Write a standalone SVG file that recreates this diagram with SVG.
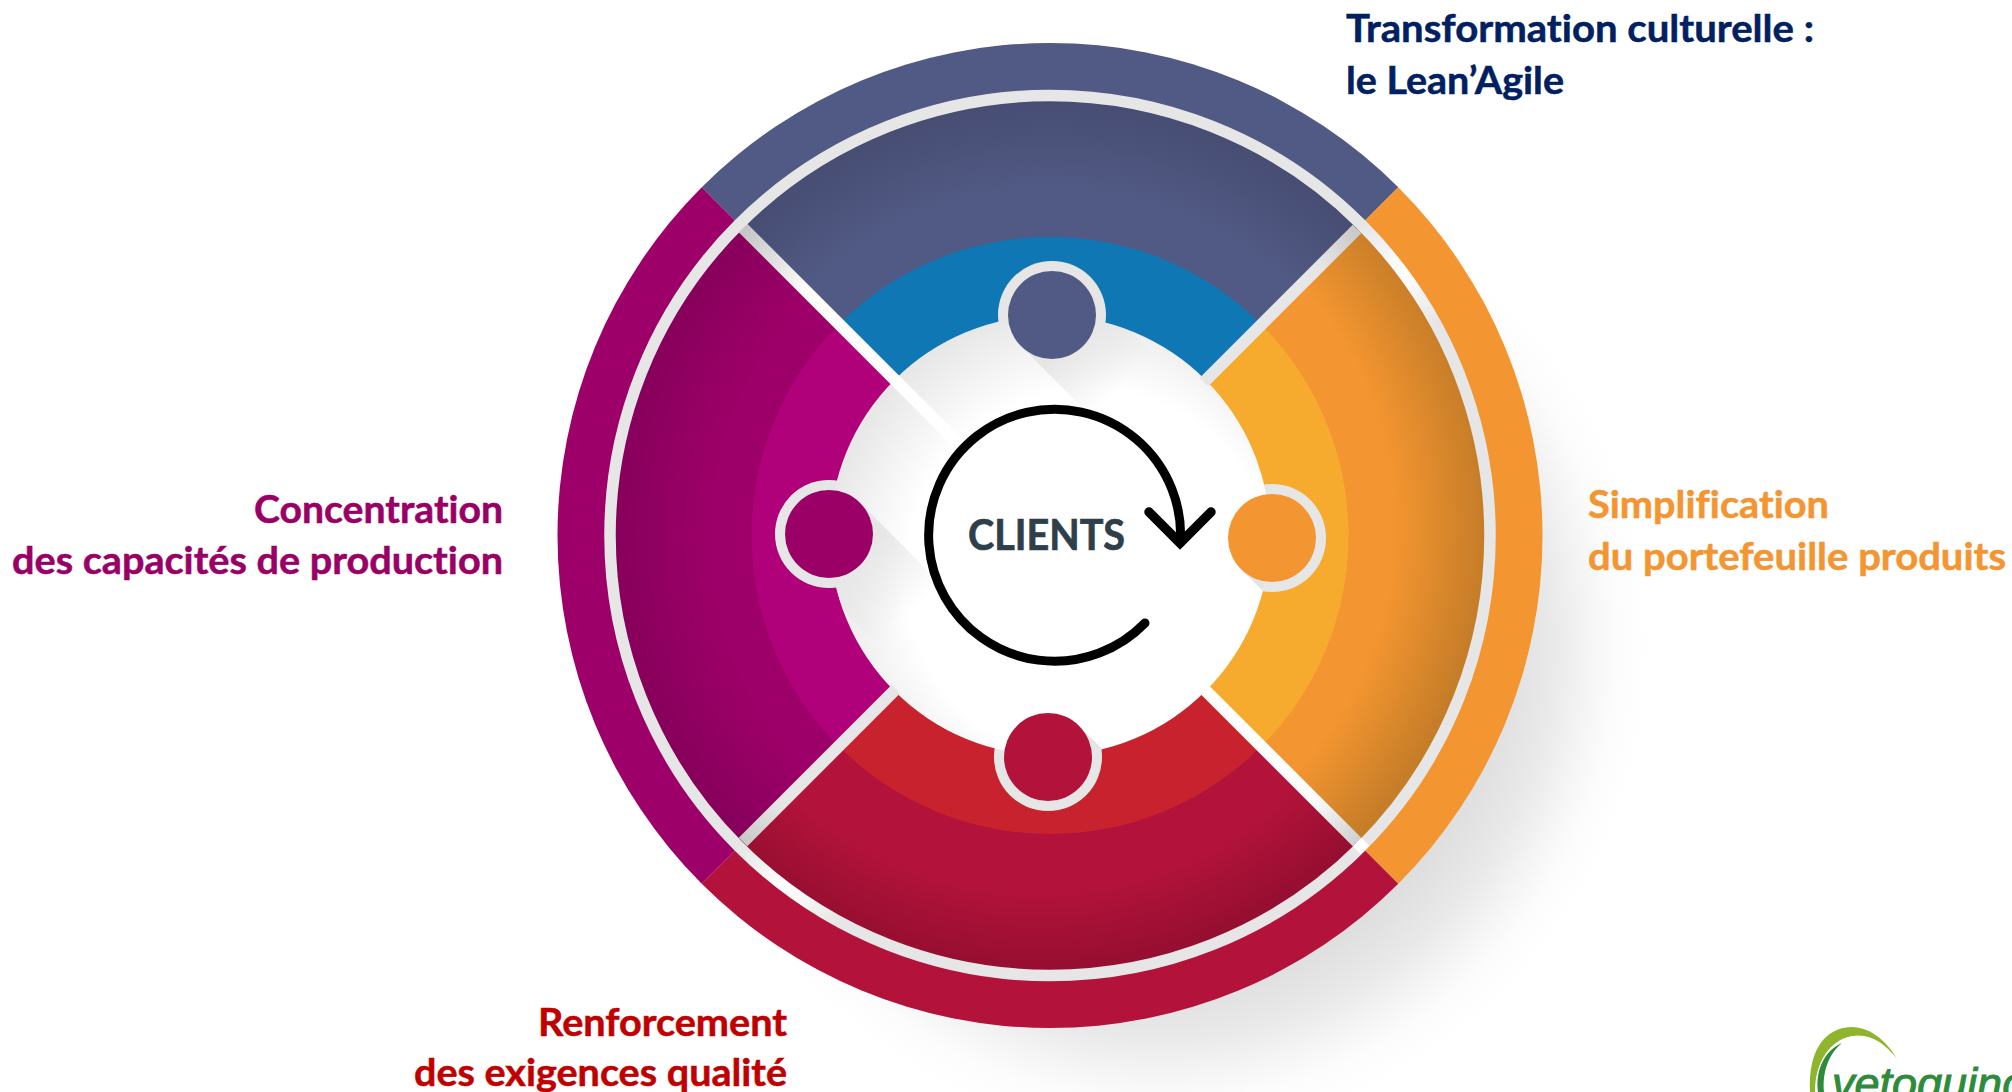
<svg xmlns="http://www.w3.org/2000/svg" width="2012" height="1092" viewBox="0 0 2012 1092">
<style>
text{font-variant-ligatures:none}
.lbl{font-family:"Lato","Carlito","Liberation Sans",sans-serif;font-weight:700;font-size:38px;stroke-width:0.5px}
.gap{fill:none;stroke-width:12}
.hub{fill:#e6e6e6}
.sh{fill:none;stroke-width:88}
</style>
<defs>
<radialGradient id="gShadow" gradientUnits="userSpaceOnUse" cx="1160" cy="645.5" r="490">
<stop offset="0.67" stop-color="#dcdcdc"/><stop offset="0.8" stop-color="#e9e9e9"/><stop offset="0.87" stop-color="#f4f4f4"/><stop offset="0.93" stop-color="#fcfcfc"/><stop offset="1" stop-color="#fff"/>
</radialGradient>
<radialGradient id="gTop" gradientUnits="userSpaceOnUse" cx="1050" cy="535.5" r="434"><stop offset="0.8" stop-color="#515a84"/><stop offset="1" stop-color="#474d73"/></radialGradient>
<radialGradient id="gLeft" gradientUnits="userSpaceOnUse" cx="1050" cy="535.5" r="434"><stop offset="0.78" stop-color="#9d0068"/><stop offset="1" stop-color="#87005b"/></radialGradient>
<radialGradient id="gRight" gradientUnits="userSpaceOnUse" cx="1040" cy="525" r="444"><stop offset="0.8" stop-color="#f39530"/><stop offset="1" stop-color="#c67d28"/></radialGradient>
<radialGradient id="gBottom" gradientUnits="userSpaceOnUse" cx="1040" cy="525" r="444"><stop offset="0.82" stop-color="#b3133a"/><stop offset="1" stop-color="#960e31"/></radialGradient>
<radialGradient id="gDisc" gradientUnits="userSpaceOnUse" cx="1090" cy="575" r="280"><stop offset="0.66" stop-color="#fff"/><stop offset="1" stop-color="#e5e5e5"/></radialGradient>
<linearGradient id="gRing" gradientUnits="userSpaceOnUse" x1="739" y1="224" x2="1361" y2="847"><stop offset="0.5" stop-color="#e6e6e6"/><stop offset="0.57" stop-color="#fff"/><stop offset="0.64" stop-color="#e6e6e6"/></linearGradient>
<linearGradient id="gNW" gradientUnits="userSpaceOnUse" x1="743" y1="228" x2="960" y2="445"><stop offset="0" stop-color="#c4c4c4"/><stop offset="0.3" stop-color="#fff"/><stop offset="1" stop-color="#fff"/></linearGradient>
<linearGradient id="gSE" gradientUnits="userSpaceOnUse" x1="1357" y1="842" x2="1205" y2="690"><stop offset="0" stop-color="#d0d0d0"/><stop offset="0.3" stop-color="#fff"/><stop offset="1" stop-color="#fff"/></linearGradient>
<linearGradient id="gNE" gradientUnits="userSpaceOnUse" x1="1357" y1="229" x2="1205" y2="381"><stop offset="0" stop-color="#c8c8c8"/><stop offset="0.25" stop-color="#e6e6e6"/></linearGradient>
<linearGradient id="gSW" gradientUnits="userSpaceOnUse" x1="743" y1="842" x2="895" y2="690"><stop offset="0" stop-color="#c8c8c8"/><stop offset="0.25" stop-color="#e6e6e6"/></linearGradient>
<linearGradient id="fTop" gradientUnits="userSpaceOnUse" x1="1052" y1="315" x2="1122" y2="385"><stop offset="0.3" stop-color="#e6e6e6"/><stop offset="1" stop-color="#e6e6e6" stop-opacity="0"/></linearGradient>
<linearGradient id="fLeft" gradientUnits="userSpaceOnUse" x1="829" y1="534" x2="909" y2="614"><stop offset="0.3" stop-color="#e6e6e6"/><stop offset="1" stop-color="#e6e6e6" stop-opacity="0"/></linearGradient>
<clipPath id="discClip"><circle cx="1050" cy="535.5" r="220"/></clipPath>
</defs>

<circle id="shadow" cx="1160" cy="645.5" r="490" fill="url(#gShadow)"/>

<g id="segment-top">
<path fill="#515a84" d="M1050 535.5L701.75 187.25A492.5 492.5 0 0 1 1398.25 187.25Z"/>
<path fill="url(#gTop)" d="M1050 535.5L738.9 224.4A440 440 0 0 1 1361.1 224.4Z"/>
<path fill="#0f78b4" d="M1050 535.5L838.9 324.4A298.5 298.5 0 0 1 1261.1 324.4Z"/>
</g>
<g id="segment-right">
<path fill="#f39530" d="M1050 535.5L1398.25 187.25A492.5 492.5 0 0 1 1398.25 883.75Z"/>
<path fill="url(#gRight)" d="M1050 535.5L1361.1 224.4A440 440 0 0 1 1361.1 846.6Z"/>
<path fill="#f7ab2e" d="M1050 535.5L1261.1 324.4A298.5 298.5 0 0 1 1261.1 746.6Z"/>
</g>
<g id="segment-bottom">
<path fill="#b3133a" d="M1050 535.5L1398.25 883.75A492.5 492.5 0 0 1 701.75 883.75Z"/>
<path fill="url(#gBottom)" d="M1050 535.5L1361.1 846.6A440 440 0 0 1 738.9 846.6Z"/>
<path fill="#c7222e" d="M1050 535.5L1261.1 746.6A298.5 298.5 0 0 1 838.9 746.6Z"/>
</g>
<g id="segment-left">
<path fill="#9d0068" d="M1050 535.5L701.75 883.75A492.5 492.5 0 0 1 701.75 187.25Z"/>
<path fill="url(#gLeft)" d="M1050 535.5L738.9 846.6A440 440 0 0 1 738.9 224.4Z"/>
<path fill="#b0007a" d="M1050 535.5L838.9 746.6A298.5 298.5 0 0 1 838.9 324.4Z"/>
</g>

<g id="hub-rings">
<circle class="hub" cx="1052" cy="315" r="54"/>
<circle class="hub" cx="829" cy="534" r="54"/>
<circle class="hub" cx="1272" cy="538" r="54"/>
<circle class="hub" cx="1048" cy="757" r="54"/>
</g>

<g id="center-disc">
<circle cx="1050" cy="535.5" r="220" fill="url(#gDisc)"/>
<g clip-path="url(#discClip)">
<path class="sh" stroke="url(#fTop)" d="M1052 315L1122 385"/>
<path class="sh" stroke="url(#fLeft)" d="M829 534L909 614"/>
<path class="sh" stroke="#e4e4e4" d="M1272 538L1322 588"/>
<path class="sh" stroke="#e4e4e4" d="M1048 757L1098 807"/>
</g>
<circle cx="1054.5" cy="534.5" r="126" fill="#fff"/>
</g>

<g id="dividers">
<path class="gap" stroke="url(#gNW)" d="M743 228L962 447"/>
<path class="gap" stroke="url(#gNE)" d="M1357 229L1204 382"/>
<path class="gap" stroke="url(#gSE)" d="M1357 842L1204 689"/>
<path class="gap" stroke="url(#gSW)" d="M743 842L896 689"/>
</g>

<circle id="ring" cx="1050" cy="535.5" r="440" fill="none" stroke="url(#gRing)" stroke-width="11.5"/>
<path id="ring-glint" class="gap" stroke="#fff" d="M1357 842L1365 850"/>

<g id="node-top"><circle cx="1052" cy="315" r="44" fill="#515a84"/></g>
<g id="node-left"><circle cx="829" cy="534" r="44" fill="#9a0066"/></g>
<g id="node-right"><circle cx="1272" cy="538" r="44" fill="#f39530"/></g>
<g id="node-bottom"><circle cx="1048" cy="757" r="44" fill="#b3133a"/></g>

<g id="cycle-arrow" fill="none" stroke="#000" stroke-width="9" stroke-linecap="round" stroke-linejoin="miter">
<path d="M1145 623A126 126 0 1 1 1180.4 543"/>
<path d="M1149 512L1180 543L1211 512" stroke-width="9.5"/>
</g>

<g id="center-label"><text x="968" y="550" font-family="Lato,'Liberation Sans',sans-serif" font-weight="700" font-size="42" fill="#2f3f4a" stroke="#2f3f4a" stroke-width="0.7" textLength="157" lengthAdjust="spacingAndGlyphs">CLIENTS</text></g>

<g id="label-top" fill="#002060" stroke="#002060">
<text class="lbl" x="1346" y="42" textLength="468" lengthAdjust="spacingAndGlyphs">Transformation culturelle :</text>
<text class="lbl" x="1346" y="94" textLength="218" lengthAdjust="spacingAndGlyphs">le Lean’Agile</text>
</g>
<g id="label-left" fill="#990066" stroke="#990066">
<text class="lbl" x="254" y="523" textLength="249" lengthAdjust="spacingAndGlyphs">Concentration</text>
<text class="lbl" x="12" y="574" textLength="491" lengthAdjust="spacingAndGlyphs">des capacités de production</text>
</g>
<g id="label-right" fill="#f39530" stroke="#f39530">
<text class="lbl" x="1588" y="518" textLength="241" lengthAdjust="spacingAndGlyphs">Simplification</text>
<text class="lbl" x="1588" y="570" textLength="418" lengthAdjust="spacingAndGlyphs">du portefeuille produits</text>
</g>
<g id="label-bottom" fill="#c00000" stroke="#c00000">
<text class="lbl" x="538" y="1036" textLength="249" lengthAdjust="spacingAndGlyphs">Renforcement</text>
<text class="lbl" x="414" y="1086" textLength="373" lengthAdjust="spacingAndGlyphs">des exigences qualité</text>
</g>

<g id="logo">
<path fill="#8fb52d" d="M1897 1059C1885 1038 1868 1027 1851 1027C1825 1028 1808 1050 1810 1092L1815 1092C1815 1062 1830 1040 1852 1036C1870 1033 1885 1043 1897 1059Z"/>
<path fill="#2e8b3a" d="M1842 1043C1825 1050 1815 1070 1818 1092L1824 1092C1822 1070 1830 1053 1842 1043Z"/>
<text x="1832" y="1099" font-family="'Liberation Sans',sans-serif" font-style="italic" font-size="45" fill="#2e8b3a" stroke="#2e8b3a" stroke-width="1">vetoquinol</text>
</g>
</svg>
